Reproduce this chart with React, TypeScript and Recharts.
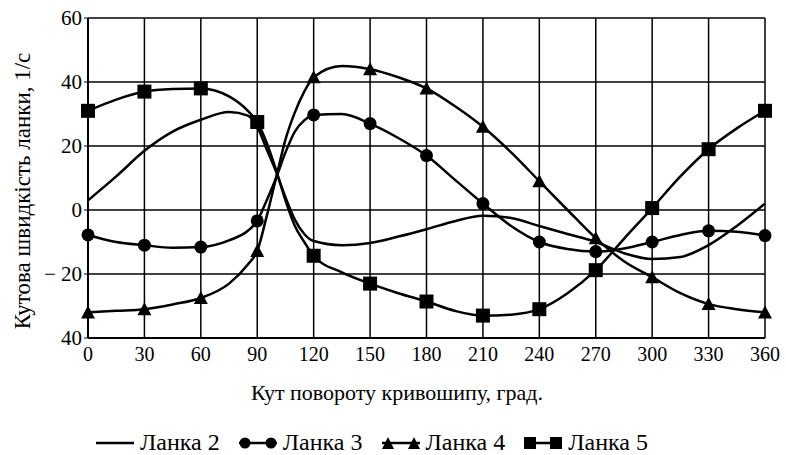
import { LineChart, Line, XAxis, YAxis, CartesianGrid, Legend, Label } from 'recharts';

// кут повороту кривошипу, град.
const angles = [0, 15, 30, 45, 60, 75, 85, 90, 95, 100, 105, 110, 115, 120, 135, 150, 165, 180, 195, 210, 225, 240, 255, 270, 285, 300, 315, 330, 345, 360];

const lanka2 = [3, 10.5, 18.5, 24.5, 28.2, 30.6, 29.5, 26, 19, 12, 4, -3, -7.5, -9.7, -11, -10.3, -8.3, -6, -3.5, -1.8, -2.5, -5, -7.5, -10, -13.5, -15.3, -14.7, -11, -5, 2];
const lanka3 = [-7.8, -10, -11, -11.8, -11.6, -9.5, -6.5, -3.4, 3, 10, 18, 24.5, 28, 29.7, 30, 27, 22.5, 17, 9.5, 2, -5, -10, -12.2, -13, -12, -10, -7.8, -6.5, -6.8, -8];
const lanka4 = [-32, -31.5, -31, -29.5, -27.5, -23, -17, -12.8, -2, 10, 22, 30.5, 37, 41.5, 45, 44, 41.5, 38, 32.5, 26, 18, 9, 0, -8.8, -16, -21, -26, -29.4, -31, -32];
const lanka5 = [31, 34.5, 37, 37.8, 38, 35.5, 31, 27.5, 21, 12.5, 3, -5, -10, -14.3, -19.5, -23, -26, -28.6, -31.5, -33, -32.7, -31, -26, -18.8, -9, 0.6, 10.5, 19, 25.5, 31];

const xTicks = [0, 30, 60, 90, 120, 150, 180, 210, 240, 270, 300, 330, 360];
const yTicks = [-40, -20, 0, 20, 40, 60];
const yTickLabels = ['40', '− 20', '0', '20', '40', '60'];

const data = angles.map((x, i) => ({ x, l2: lanka2[i], l3: lanka3[i], l4: lanka4[i], l5: lanka5[i] }));

const FONT = "'Liberation Serif', 'DejaVu Serif', 'Noto Serif', serif";

const marker = (shape: string) => (props: any) => {
  const { cx, cy, payload, index } = props;
  if (payload.x % 30 !== 0) return <g key={`m-${shape}-${index}`} />;
  if (shape === 'circle') return <circle key={`m-${shape}-${index}`} cx={cx} cy={cy} r={6.5} fill="#000" />;
  if (shape === 'triangle')
    return <polygon key={`m-${shape}-${index}`} points={`${cx},${cy - 7} ${cx - 7},${cy + 6} ${cx + 7},${cy + 6}`} fill="#000" />;
  return <rect key={`m-${shape}-${index}`} x={cx - 7} y={cy - 7} width={14} height={14} fill="#000" />;
};

function LegendIcon({ shape }: { shape: string }) {
  return (
    <svg width={40} height={16} style={{ verticalAlign: 'middle' }}>
      <line x1={1} y1={8} x2={39} y2={8} stroke="#000" strokeWidth={2.5} />
      {shape === 'circle' && (
        <>
          <circle cx={7} cy={8} r={5.5} fill="#000" />
          <circle cx={33} cy={8} r={5.5} fill="#000" />
        </>
      )}
      {shape === 'triangle' && (
        <>
          <polygon points="7,2 1,14 13,14" fill="#000" />
          <polygon points="33,2 27,14 39,14" fill="#000" />
        </>
      )}
      {shape === 'square' && (
        <>
          <rect x={1} y={2} width={12} height={12} fill="#000" />
          <rect x={27} y={2} width={12} height={12} fill="#000" />
        </>
      )}
    </svg>
  );
}

const legendItems = [
  { name: 'Ланка 2', shape: 'none' },
  { name: 'Ланка 3', shape: 'circle' },
  { name: 'Ланка 4', shape: 'triangle' },
  { name: 'Ланка 5', shape: 'square' },
];

function renderLegend() {
  return (
    <div style={{ display: 'flex', justifyContent: 'center', gap: 18, fontFamily: FONT, fontSize: 24, color: '#000', paddingTop: 14, paddingRight: 22 }}>
      {legendItems.map((it) => (
        <span key={it.name} style={{ display: 'flex', alignItems: 'center', gap: 5 }}>
          <LegendIcon shape={it.shape} />
          {it.name}
        </span>
      ))}
    </div>
  );
}

export default function App() {
  return (
    <div style={{ position: 'absolute', left: 0, top: 0, width: 786, height: 455, background: '#fff' }}>
      <LineChart width={786} height={455} data={data} margin={{ top: 18, right: 21, left: 0, bottom: 0 }}>
        <CartesianGrid stroke="#000" strokeWidth={1.5} />
        <XAxis
          dataKey="x"
          type="number"
          domain={[0, 360]}
          ticks={xTicks}
          height={77}
          axisLine={{ stroke: '#000', strokeWidth: 2 }}
          tickLine={false}
          tick={{ fill: '#000', fontFamily: FONT, fontSize: 20 }}
          tickMargin={3}
        >
          <Label
            content={() => (
              <text x={397} y={400} textAnchor="middle" fontFamily={FONT} fontSize={22} fill="#000">
                Кут повороту кривошипу, град.
              </text>
            )}
          />
        </XAxis>
        <YAxis
          type="number"
          domain={[-40, 60]}
          ticks={yTicks}
          width={88}
          axisLine={{ stroke: '#000', strokeWidth: 2 }}
          tickLine={{ stroke: '#000' }}
          tickSize={4}
          tickFormatter={(v: number) => yTickLabels[yTicks.indexOf(v)]}
          tick={{ fill: '#000', fontFamily: FONT, fontSize: 21 }}
        >
          <Label
            content={() => (
              <text x={30} y={191} textAnchor="middle" transform="rotate(-90 30 191)" fontFamily={FONT} fontSize={23} fill="#000">
                Кутова швидкість ланки, 1/с
              </text>
            )}
          />
        </YAxis>
        <Legend verticalAlign="bottom" height={40} content={renderLegend} />
        <Line type="monotone" dataKey="l2" name="Ланка 2" stroke="#000" strokeWidth={2.5} dot={false} isAnimationActive={false} />
        <Line type="monotone" dataKey="l3" name="Ланка 3" stroke="#000" strokeWidth={2.5} dot={marker('circle')} isAnimationActive={false} />
        <Line type="monotone" dataKey="l4" name="Ланка 4" stroke="#000" strokeWidth={2.5} dot={marker('triangle')} isAnimationActive={false} />
        <Line type="monotone" dataKey="l5" name="Ланка 5" stroke="#000" strokeWidth={2.5} dot={marker('square')} isAnimationActive={false} />
      </LineChart>
    </div>
  );
}
